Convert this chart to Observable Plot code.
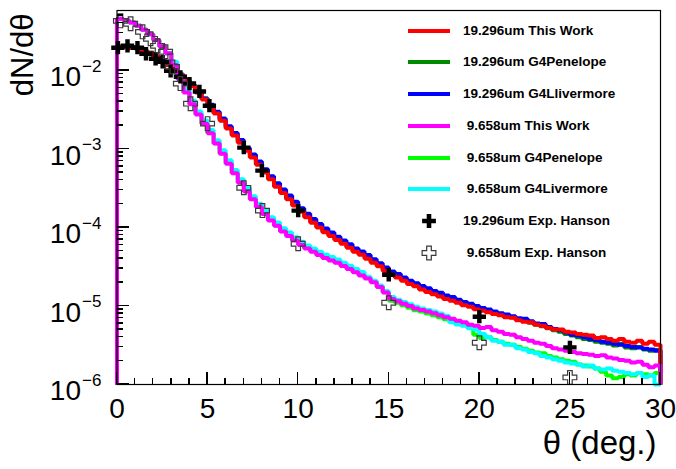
<!DOCTYPE html>
<html>
<head>
<meta charset="utf-8">
<script src="https://cdn.jsdelivr.net/npm/d3@7"></script>
<script src="https://cdn.jsdelivr.net/npm/@observablehq/plot@0.6"></script>
<style>
  body { margin: 0; background: #fff; }
  #wrap { position: relative; width: 676px; height: 469px; font-family: "Liberation Sans", Arial, Helvetica, sans-serif; }
  #legend { position: absolute; left: 0; top: 0; width: 676px; height: 469px; pointer-events: none; }
  .row { position: absolute; height: 20px; }
  .row .txt { position: absolute; left: 463px; top: 0; line-height: 20px; font-weight: bold; font-size: 13.5px; white-space: pre; color: #000; }
  .row .ln { position: absolute; left: 408px; top: 8px; width: 42px; height: 4px; }
  .row svg { position: absolute; left: 420px; top: 1px; }
  .tk { position: absolute; background: #000; }
</style>
</head>
<body>
<div id="wrap"><div id="chart"></div><div id="ticks"></div><div id="legend"></div></div>
<script>
// ---------- data ----------
const thetaRange = [0, 30];             // histogram range (deg), 90 bins
const yDomain = [1e-6, 0.058];

const xTickValues = [0, 5, 10, 15, 20, 25, 30];
const xMinorTicks = [1,2,3,4,6,7,8,9,11,12,13,14,16,17,18,19,21,22,23,24,26,27,28,29];
const yTickValues = [1e-2, 1e-3, 1e-4, 1e-5, 1e-6];
const yTickExponents = ["\u22122", "\u22123", "\u22124", "\u22125", "\u22126"];
const yMinorTicks = [
  2e-6,3e-6,4e-6,5e-6,6e-6,7e-6,8e-6,9e-6,
  2e-5,3e-5,4e-5,5e-5,6e-5,7e-5,8e-5,9e-5,
  2e-4,3e-4,4e-4,5e-4,6e-4,7e-4,8e-4,9e-4,
  2e-3,3e-3,4e-3,5e-3,6e-3,7e-3,8e-3,9e-3,
  2e-2,3e-2,4e-2,5e-2
];

// 19.296 um
const thisWork19 = [
  2.0e-2,2.0e-2,1.95e-2,1.91e-2,1.78e-2,1.66e-2,1.48e-2,1.32e-2,1.17e-2,1.02e-2,
  8.7e-3,7.4e-3,6.3e-3,5.25e-3,4.27e-3,3.47e-3,2.82e-3,2.29e-3,1.82e-3,1.48e-3,
  1.2e-3,9.5e-4,7.8e-4,6.3e-4,5.0e-4,4.1e-4,3.3e-4,2.75e-4,2.29e-4,1.91e-4,
  1.58e-4,1.35e-4,1.15e-4,1.0e-4,8.7e-5,7.8e-5,6.9e-5,6.2e-5,5.5e-5,4.9e-5,
  4.5e-5,4.0e-5,3.55e-5,3.2e-5,2.8e-5,2.5e-5,2.3e-5,2.1e-5,1.9e-5,1.78e-5,
  1.62e-5,1.51e-5,1.41e-5,1.32e-5,1.23e-5,1.17e-5,1.1e-5,1.02e-5,9.8e-6,9.1e-6,
  8.7e-6,8.3e-6,7.9e-6,7.6e-6,7.2e-6,7.1e-6,6.6e-6,6.3e-6,6.2e-6,5.75e-6,
  5.6e-6,5.25e-6,5.0e-6,5.0e-6,4.7e-6,4.6e-6,4.4e-6,4.3e-6,4.2e-6,3.9e-6,
  4.0e-6,3.8e-6,3.6e-6,3.8e-6,3.5e-6,3.4e-6,3.6e-6,3.3e-6,3.5e-6,3.2e-6
];
const penelope19 = [
  2.02e-2,2.02e-2,1.97e-2,1.93e-2,1.8e-2,1.69e-2,1.51e-2,1.35e-2,1.2e-2,1.05e-2,8.9e-3,7.6e-3,6.5e-3,5.4e-3,4.4e-3,
  3.57e-3,2.9e-3,2.36e-3,1.87e-3,1.52e-3,1.24e-3,9.8e-4,8.0e-4,6.5e-4,5.15e-4,4.2e-4,3.4e-4,2.83e-4,2.36e-4,1.97e-4,
  1.63e-4,1.39e-4,1.18e-4,1.03e-4,9.0e-5,8.0e-5,7.1e-5,6.4e-5,5.7e-5,5.05e-5,4.6e-5,4.1e-5,3.65e-5,3.3e-5,2.9e-5,
  2.58e-5,2.37e-5,2.16e-5,1.96e-5,1.83e-5,1.67e-5,1.56e-5,1.45e-5,1.36e-5,1.27e-5,1.2e-5,1.13e-5,1.05e-5,1.0e-5,9.4e-6,
  9.2e-6,8.7e-6,8.3e-6,7.9e-6,7.5e-6,7.2e-6,6.8e-6,6.5e-6,6.1e-6,5.8e-6,5.5e-6,5.2e-6,4.9e-6,4.7e-6,4.4e-6,
  4.2e-6,4.0e-6,3.8e-6,3.7e-6,3.5e-6,3.4e-6,3.3e-6,3.15e-6,3.3e-6,2.95e-6,2.9e-6,3.0e-6,2.8e-6,2.7e-6,2.75e-6
];
const livermore19 = [
  2.0e-2,2.0e-2,1.96e-2,1.9e-2,1.78e-2,1.67e-2,1.49e-2,1.33e-2,1.18e-2,1.03e-2,8.8e-3,7.5e-3,6.4e-3,5.35e-3,4.4e-3,
  3.65e-3,2.98e-3,2.45e-3,1.95e-3,1.6e-3,1.3e-3,1.03e-3,8.5e-4,6.9e-4,5.5e-4,4.5e-4,3.65e-4,3.05e-4,2.55e-4,2.12e-4,
  1.76e-4,1.5e-4,1.28e-4,1.11e-4,9.7e-5,8.6e-5,7.6e-5,6.8e-5,6.1e-5,5.4e-5,4.95e-5,4.45e-5,3.95e-5,3.5e-5,3.1e-5,
  2.75e-5,2.55e-5,2.3e-5,2.1e-5,1.95e-5,1.8e-5,1.68e-5,1.55e-5,1.47e-5,1.36e-5,1.3e-5,1.2e-5,1.12e-5,1.07e-5,1.0e-5,
  9.4e-6,9.0e-6,8.5e-6,8.1e-6,7.8e-6,7.4e-6,7.0e-6,6.9e-6,6.4e-6,6.0e-6,5.9e-6,5.4e-6,5.1e-6,4.9e-6,4.6e-6,
  4.3e-6,4.2e-6,4.0e-6,3.8e-6,3.7e-6,3.5e-6,3.4e-6,3.3e-6,3.2e-6,3.1e-6,3.0e-6,2.95e-6,2.85e-6,2.8e-6,2.7e-6
];

// 9.658 um
const thisWork9 = [
  4.57e-2,4.37e-2,4.07e-2,3.72e-2,3.31e-2,2.88e-2,2.45e-2,2.04e-2,1.66e-2,1.17e-2,
  7.8e-3,5.25e-3,3.72e-3,2.75e-3,2.09e-3,1.58e-3,1.17e-3,8.7e-4,6.5e-4,4.9e-4,
  3.72e-4,2.88e-4,2.29e-4,1.82e-4,1.48e-4,1.23e-4,1.05e-4,8.9e-5,7.8e-5,6.8e-5,
  6.0e-5,5.4e-5,4.9e-5,4.47e-5,4.07e-5,3.8e-5,3.55e-5,3.24e-5,2.95e-5,2.69e-5,
  2.45e-5,2.24e-5,2.0e-5,1.74e-5,1.48e-5,1.23e-5,1.15e-5,1.07e-5,1.0e-5,9.3e-6,
  8.9e-6,8.5e-6,8.1e-6,7.6e-6,7.2e-6,6.9e-6,6.5e-6,6.2e-6,5.75e-6,5.6e-6,
  5.25e-6,5.4e-6,4.9e-6,4.7e-6,4.4e-6,4.3e-6,4.0e-6,3.8e-6,3.6e-6,3.4e-6,
  3.3e-6,3.1e-6,2.9e-6,2.8e-6,2.7e-6,2.6e-6,2.5e-6,2.45e-6,2.4e-6,2.3e-6,
  2.35e-6,2.2e-6,2.15e-6,2.05e-6,2.0e-6,1.9e-6,1.95e-6,1.78e-6,1.66e-6,1.74e-6
];
const penelope9 = [
  4.57e-2,4.37e-2,4.07e-2,3.72e-2,3.31e-2,2.88e-2,2.45e-2,2.04e-2,1.66e-2,1.2e-2,7.9e-3,5.3e-3,3.75e-3,
  2.8e-3,2.1e-3,1.6e-3,1.18e-3,8.8e-4,6.6e-4,5.0e-4,3.75e-4,2.9e-4,2.3e-4,1.84e-4,1.5e-4,1.25e-4,1.06e-4,9.0e-5,7.9e-5,6.9e-5,
  6.1e-5,5.5e-5,5.0e-5,4.5e-5,4.1e-5,3.85e-5,3.6e-5,3.3e-5,3.0e-5,2.75e-5,2.5e-5,2.28e-5,2.05e-5,1.78e-5,1.5e-5,
  1.17e-5,1.1e-5,1.02e-5,9.5e-6,8.8e-6,8.5e-6,8.0e-6,7.6e-6,7.2e-6,6.8e-6,6.5e-6,6.1e-6,5.9e-6,5.4e-6,
  4.3e-6,3.9e-6,4.0e-6,3.7e-6,3.5e-6,3.3e-6,3.2e-6,3.0e-6,2.85e-6,2.7e-6,
  2.55e-6,2.5e-6,2.3e-6,2.2e-6,2.1e-6,2.0e-6,1.95e-6,1.8e-6,1.75e-6,1.7e-6,
  1.6e-6,1.45e-6,1.3e-6,1.2e-6,1.25e-6,1.35e-6,1.3e-6,1.4e-6,1.35e-6,1.3e-6,1.4e-6
];
const livermore9 = [
  4.57e-2,4.37e-2,4.07e-2,3.72e-2,3.31e-2,2.88e-2,2.45e-2,2.04e-2,1.66e-2,
  1.29e-2,8.6e-3,5.8e-3,4.1e-3,3.0e-3,2.3e-3,1.74e-3,1.29e-3,9.6e-4,7.2e-4,5.4e-4,4.1e-4,3.2e-4,2.5e-4,2.0e-4,1.63e-4,1.35e-4,
  1.16e-4,9.8e-5,8.6e-5,7.5e-5,6.6e-5,5.9e-5,5.4e-5,4.9e-5,4.5e-5,4.2e-5,3.9e-5,3.55e-5,3.25e-5,2.95e-5,2.7e-5,
  2.35e-5,2.1e-5,1.83e-5,1.55e-5,1.3e-5,1.2e-5,1.12e-5,1.05e-5,9.8e-6,9.3e-6,8.9e-6,8.5e-6,8.0e-6,7.5e-6,
  6.2e-6,5.8e-6,5.6e-6,5.2e-6,5.0e-6,4.4e-6,
  4.0e-6,3.6e-6,3.5e-6,3.2e-6,3.2e-6,2.9e-6,2.8e-6,2.6e-6,2.5e-6,2.3e-6,
  2.2e-6,2.1e-6,2.0e-6,1.9e-6,1.85e-6,1.8e-6,1.7e-6,1.75e-6,1.6e-6,1.55e-6,
  1.6e-6,1.5e-6,1.45e-6,1.4e-6,1.35e-6,1.4e-6,1.25e-6,1.3e-6,1.0e-6
];

// Hanson experimental points
const hanson19Theta = [0.05,0.58,1.13,1.6,2.13,2.52,2.96,3.5,4.0,4.55,5.1,7.0,8.0,10.0,15.0,20.0,25.0];
const hanson19Value = [1.95e-2,2.06e-2,1.95e-2,1.63e-2,1.41e-2,1.29e-2,9.9e-3,8.3e-3,6.8e-3,5.4e-3,3.56e-3,1.04e-3,5.3e-4,1.64e-4,2.5e-5,7.3e-6,2.97e-6];
const hanson9Theta = [0.19,0.75,1.41,1.85,2.24,2.68,3.06,3.5,4.06,5.0,7.0,8.03,10.0,15.0,20.0,25.0];
const hanson9Value = [4.28e-2,3.93e-2,3.1e-2,2.53e-2,2.06e-2,1.73e-2,1.11e-2,6.8e-3,3.77e-3,2.1e-3,3.2e-4,1.64e-4,6.2e-5,1.1e-5,3.4e-6,1.23e-6];

const seriesLabels = ["19.296um This Work","19.296um G4Penelope","19.296um G4Llivermore",
  " 9.658um This Work"," 9.658um G4Penelope"," 9.658um G4Livermore",
  "19.296um Exp. Hanson"," 9.658um Exp. Hanson"];
const seriesColors = ["#ff0000","#008a00","#0000ff","#ff00ff","#00ff00","#00ffff","#000000","#555555"];

// ---------- build ----------
function steps(values) {
  const w = (thetaRange[1] - thetaRange[0]) / values.length;
  const pts = [{theta: thetaRange[0], v: yDomain[0]}];
  values.forEach((v, i) => {
    pts.push({theta: thetaRange[0] + i * w, v});
    pts.push({theta: thetaRange[0] + (i + 1) * w, v});
  });
  pts.push({theta: thetaRange[1], v: yDomain[0]});
  return pts;
}
const hist = (values, color) => Plot.line(steps(values), {
  x: "theta", y: "v", stroke: color, strokeWidth: 4,
  strokeLinejoin: "miter", strokeLinecap: "butt"
});
const pts19 = hanson19Theta.map((t, i) => ({theta: t, v: hanson19Value[i]}));
const pts9 = hanson9Theta.map((t, i) => ({theta: t, v: hanson9Value[i]}));

const font = "'Liberation Sans', Arial, Helvetica, sans-serif";

const chart = Plot.plot({
  width: 676,
  height: 469,
  marginLeft: 116.5,
  marginRight: 16,
  marginTop: 10,
  marginBottom: 85,
  style: {fontFamily: font, background: "white", color: "black"},
  x: {domain: thetaRange, axis: null},
  y: {type: "log", domain: yDomain, axis: null},
  marks: [
    hist(penelope19, seriesColors[1]),
    hist(livermore19, seriesColors[2]),
    hist(penelope9, seriesColors[4]),
    hist(livermore9, seriesColors[5]),
    hist(thisWork19, seriesColors[0]),
    hist(thisWork9, seriesColors[3]),
    Plot.dot(pts19, {x: "theta", y: "v", symbol: "cross", r: 5.6, fill: "black", stroke: "none"}),
    Plot.dot(pts9, {x: "theta", y: "v", symbol: "cross", r: 5.8, fill: "none", stroke: "#3a3a3a", strokeWidth: 1.2}),
    Plot.frame({stroke: "black", strokeWidth: 1.2}),
    // tick labels
    Plot.text(xTickValues, {x: d => d, frameAnchor: "bottom", text: d => String(d), lineAnchor: "top", dy: 14, fontSize: 28, fill: "black"}),
    Plot.text(yTickValues, {y: d => d, frameAnchor: "left", text: () => "10", textAnchor: "end", dx: -36, dy: 7, fontSize: 28, fill: "black"}),
    Plot.text(yTickValues, {y: d => d, frameAnchor: "left", text: (d, i) => yTickExponents[i], textAnchor: "start", dx: -35, dy: -4, fontSize: 17, fill: "black"}),
    // axis titles
    Plot.text(["\u03b8 (deg.)"], {frameAnchor: "bottom-right", textAnchor: "end", dx: -4, dy: 69, fontSize: 33, fill: "black"}),
    Plot.text(["dN/d\u03b8"], {frameAnchor: "top-left", rotate: -90, textAnchor: "end", dx: -106, dy: 3, fontSize: 31, fill: "black"})
  ]
});
document.getElementById("chart").appendChild(chart);

// ---------- inward ROOT-style ticks, positioned with the chart's own scales ----------
const xs = chart.scale("x"), ys = chart.scale("y");
const tickLayer = document.getElementById("ticks");
const frameLeft = xs.apply(thetaRange[0]), frameBottom = ys.apply(yDomain[0]);
function addTick(left, top, w, h) {
  const el = document.createElement("div");
  el.className = "tk";
  el.style.left = left + "px"; el.style.top = top + "px";
  el.style.width = w + "px"; el.style.height = h + "px";
  tickLayer.appendChild(el);
}
xTickValues.forEach(t => addTick(xs.apply(t) - 0.75, frameBottom - 12, 1.5, 12));
xMinorTicks.forEach(t => addTick(xs.apply(t) - 0.75, frameBottom - 6, 1.5, 6));
yTickValues.forEach(v => addTick(frameLeft, ys.apply(v) - 0.75, 12, 1.5));
yMinorTicks.forEach(v => addTick(frameLeft, ys.apply(v) - 0.75, 6, 1.5));

// ---------- legend ----------
const legend = document.getElementById("legend");
const rowTop0 = 30.7, rowStep = 31.7;
seriesLabels.forEach((label, i) => {
  const row = document.createElement("div");
  row.className = "row";
  row.style.top = (rowTop0 + i * rowStep - 10) + "px";
  row.style.left = "0px";
  row.style.width = "676px";
  if (i < 6) {
    const ln = document.createElement("div");
    ln.className = "ln";
    ln.style.background = seriesColors[i];
    row.appendChild(ln);
  } else {
    const ns = "http://www.w3.org/2000/svg";
    const svg = document.createElementNS(ns, "svg");
    svg.setAttribute("width", 18); svg.setAttribute("height", 18);
    const p = document.createElementNS(ns, "path");
    p.setAttribute("transform", "translate(9,9)");
    p.setAttribute("d", d3.symbol(d3.symbolCross, Math.PI * 5.8 * 5.8)());
    if (i === 6) { p.setAttribute("fill", "black"); }
    else { p.setAttribute("fill", "none"); p.setAttribute("stroke", "#3a3a3a"); p.setAttribute("stroke-width", "1.2"); }
    svg.appendChild(p);
    row.appendChild(svg);
  }
  const t = document.createElement("div");
  t.className = "txt";
  t.textContent = label;
  row.appendChild(t);
  legend.appendChild(row);
});
</script>
</body>
</html>
